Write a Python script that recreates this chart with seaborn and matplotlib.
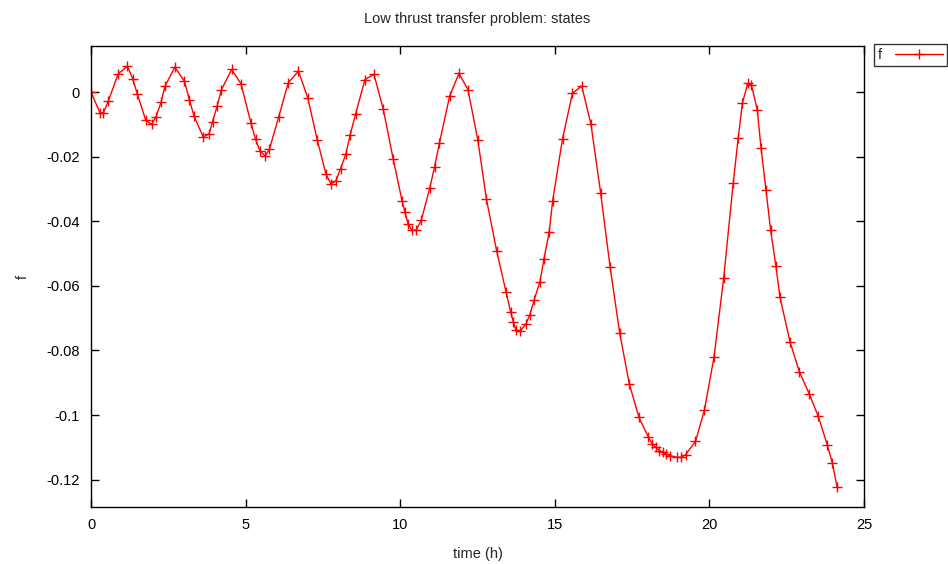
import numpy as np
import pandas as pd
import matplotlib
matplotlib.use("Agg")
import matplotlib.pyplot as plt
import seaborn as sns
from matplotlib.ticker import FuncFormatter

# values
time_h = [
    0.00, 0.29, 0.40, 0.56, 0.88, 1.18, 1.35, 1.50, 1.77, 1.96,
    2.10, 2.27, 2.39, 2.71, 3.02, 3.18, 3.33, 3.63, 3.82, 3.93,
    4.08, 4.22, 4.55, 4.85, 5.17, 5.32, 5.46, 5.63, 5.77, 6.07,
    6.38, 6.71, 7.01, 7.32, 7.60, 7.76, 7.92, 8.07, 8.24, 8.38,
    8.56, 8.86, 9.15, 9.45, 9.77, 10.06, 10.15, 10.25, 10.38, 10.51,
    10.68, 10.96, 11.11, 11.27, 11.60, 11.90, 12.19, 12.51, 12.79, 13.12,
    13.42, 13.57, 13.66, 13.74, 13.89, 14.06, 14.19, 14.33, 14.52, 14.65,
    14.82, 14.93, 15.25, 15.57, 15.87, 16.17, 16.48, 16.79, 17.10, 17.41,
    17.72, 18.02, 18.15, 18.27, 18.38, 18.49, 18.60, 18.73, 18.94, 19.08,
    19.23, 19.55, 19.84, 20.15, 20.46, 20.77, 20.93, 21.07, 21.24, 21.36,
    21.55, 21.67, 21.83, 21.98, 22.15, 22.28, 22.61, 22.91, 23.23, 23.52,
    23.81, 23.98, 24.13,
]
f_state = [
    0.0000, -0.0064, -0.0064, -0.0028, 0.0057, 0.0080, 0.0041, -0.0007, -0.0087, -0.0100,
    -0.0077, -0.0030, 0.0018, 0.0077, 0.0034, -0.0023, -0.0074, -0.0139, -0.0129, -0.0092,
    -0.0043, 0.0008, 0.0070, 0.0026, -0.0095, -0.0146, -0.0181, -0.0198, -0.0177, -0.0077,
    0.0029, 0.0065, -0.0018, -0.0149, -0.0255, -0.0284, -0.0275, -0.0237, -0.0193, -0.0133,
    -0.0067, 0.0039, 0.0055, -0.0052, -0.0206, -0.0337, -0.0371, -0.0407, -0.0428, -0.0428,
    -0.0397, -0.0296, -0.0232, -0.0157, -0.0012, 0.0058, 0.0008, -0.0148, -0.0332, -0.0492,
    -0.0618, -0.0680, -0.0711, -0.0737, -0.0739, -0.0719, -0.0690, -0.0644, -0.0587, -0.0516,
    -0.0432, -0.0337, -0.0144, -0.0004, 0.0019, -0.0100, -0.0311, -0.0543, -0.0747, -0.0904,
    -0.1007, -0.1067, -0.1090, -0.1100, -0.1110, -0.1116, -0.1121, -0.1126, -0.1131, -0.1131,
    -0.1123, -0.1082, -0.0984, -0.0820, -0.0577, -0.0282, -0.0143, -0.0033, 0.0027, 0.0022,
    -0.0056, -0.0174, -0.0303, -0.0428, -0.0538, -0.0634, -0.0775, -0.0866, -0.0935, -0.1004,
    -0.1092, -0.1150, -0.1224,
]
x_ticks = [0, 5, 10, 15, 20, 25]
y_ticks = [0, -0.02, -0.04, -0.06, -0.08, -0.1, -0.12]

df = pd.DataFrame({"time": time_h, "f": f_state})

sns.set_style("ticks")
plt.rcParams["font.family"] = ["Liberation Sans", "DejaVu Sans"]
plt.rcParams["axes.unicode_minus"] = False

fig = plt.figure(figsize=(9.48, 5.64), dpi=100)
ax = fig.add_axes([0.096, 0.101, 0.8154, 0.817])

sns.lineplot(
    data=df, x="time", y="f", sort=False, ax=ax,
    color="red", linewidth=1, marker="+", markersize=7,
    markeredgewidth=1, markeredgecolor="red", label="f",
)

ax.set_xlim(0, 25)
ax.set_ylim(-0.1285, 0.0142)
ax.set_xticks(x_ticks)
ax.set_yticks(y_ticks)
ax.yaxis.set_major_formatter(FuncFormatter(lambda v, p: f"{round(v, 4):g}" if abs(v) > 1e-9 else "0"))
ax.tick_params(direction="in", length=6, width=1, top=True, right=True,
               labelsize=10.5, colors="black", pad=8)
for s in ax.spines.values():
    s.set_linewidth(1)
    s.set_color("black")

ax.set_xlabel("time (h)", fontsize=10.5, labelpad=11)
ax.set_ylabel("f", fontsize=10.5, labelpad=12)
ax.set_title("Low thrust transfer problem: states", fontsize=10.5, pad=17)

leg = ax.legend(loc="upper left", bbox_to_anchor=(1.013, 1.004), frameon=True,
                fancybox=False, edgecolor="black", markerfirst=False,
                handlelength=3.3, handletextpad=0.9, borderpad=0.25,
                borderaxespad=0, fontsize=10.5)
leg.get_frame().set_linewidth(1)

fig.savefig("out.png", dpi=100)
